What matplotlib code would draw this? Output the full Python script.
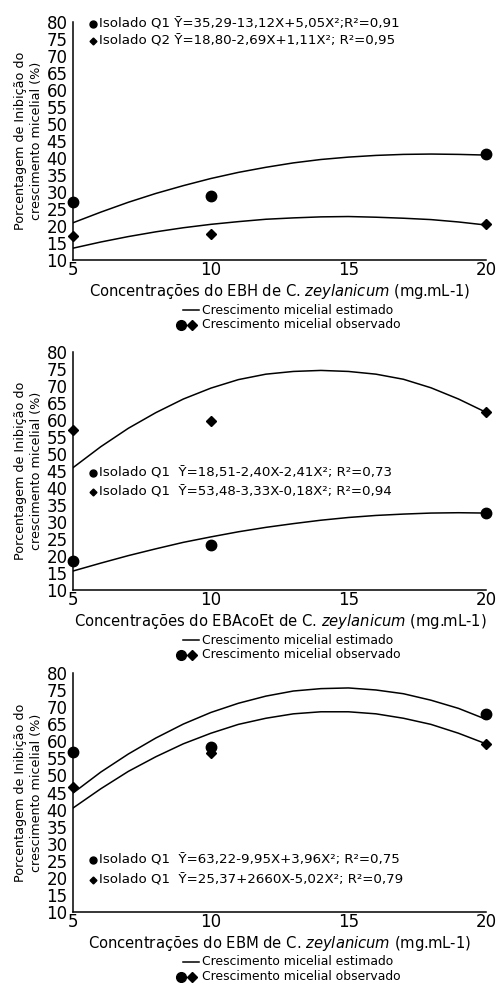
import matplotlib
matplotlib.use("Agg")
import matplotlib.pyplot as plt
from matplotlib.lines import Line2D

W, H = 500, 983  # figure size in pixels

# observed concentrations (mg/mL)
conc = [5, 10, 20]
# points along the fitted curves
curve_x = [5, 6, 7, 8, 9, 10, 11, 12, 13, 14, 15, 16, 17, 18, 19, 20]

# EBH
ebh_q1_obs = [27.0, 28.9, 41.1]
ebh_q2_obs = [17.0, 17.6, 20.5]
ebh_q1_est = [21.0, 24.1, 27.0, 29.6, 31.9, 34.0, 35.8, 37.3, 38.6, 39.6,
              40.3, 40.8, 41.1, 41.2, 41.1, 40.9]
ebh_q2_est = [13.5, 15.3, 16.9, 18.3, 19.5, 20.5, 21.3, 22.0, 22.4, 22.7,
              22.8, 22.6, 22.3, 21.9, 21.2, 20.3]

# EBAcoEt
ebaco_circ_obs = [18.4, 23.2, 32.6]
ebaco_diam_obs = [56.9, 59.7, 62.2]
ebaco_circ_est = [15.6, 17.9, 20.1, 22.1, 24.0, 25.6, 27.1, 28.4, 29.5, 30.5,
                  31.3, 31.9, 32.3, 32.6, 32.7, 32.6]
ebaco_diam_est = [46.0, 52.1, 57.5, 62.1, 66.1, 69.3, 71.8, 73.4, 74.2, 74.5,
                  74.2, 73.4, 71.9, 69.4, 66.1, 62.2]

# EBM
ebm_circ_obs = [56.8, 58.4, 68.1]
ebm_diam_obs = [46.5, 56.7, 59.1]
ebm_circ_est = [44.9, 51.0, 56.3, 61.0, 65.1, 68.5, 71.2, 73.3, 74.8, 75.5,
                75.7, 75.1, 74.0, 72.1, 69.7, 66.5]
ebm_diam_est = [40.5, 46.1, 51.2, 55.5, 59.3, 62.4, 65.0, 66.8, 68.1, 68.7,
                68.7, 68.1, 66.8, 65.0, 62.4, 59.3]

extracts = ["EBH", "EBAcoEt", "EBM"]
eq_circ = ["Isolado Q1 Ȳ=35,29-13,12X+5,05X²;R²=0,91",
           "Isolado Q1  Ȳ=18,51-2,40X-2,41X²; R²=0,73",
           "Isolado Q1  Ȳ=63,22-9,95X+3,96X²; R²=0,75"]
eq_diam = ["Isolado Q2 Ȳ=18,80-2,69X+1,11X²; R²=0,95",
           "Isolado Q1  Ȳ=53,48-3,33X-0,18X²; R²=0,94",
           "Isolado Q1  Ȳ=25,37+2660X-5,02X²; R²=0,79"]

yticks = [10, 15, 20, 25, 30, 35, 40, 45, 50, 55, 60, 65, 70, 75, 80]
xticks = [5, 10, 15, 20]

circ_obs = [ebh_q1_obs, ebaco_circ_obs, ebm_circ_obs]
diam_obs = [ebh_q2_obs, ebaco_diam_obs, ebm_diam_obs]
circ_est = [ebh_q1_est, ebaco_circ_est, ebm_circ_est]
diam_est = [ebh_q2_est, ebaco_diam_est, ebm_diam_est]

# layout (pixels)
tops = [22.3, 351.7, 673.3]
bottoms = [260, 590, 911.7]
eq_rows = [(24, 41), (473.3, 491.7), (860, 880)]
left_px, right_px = 73.3, 486


def fx(px):
    return px / W


def fy(py):
    return 1 - py / H


fig = plt.figure(figsize=(W / 100, H / 100), dpi=100)

for i in range(3):
    ax = fig.add_axes([fx(left_px), fy(bottoms[i]),
                       (right_px - left_px) / W, (bottoms[i] - tops[i]) / H])
    ax.plot(curve_x, circ_est[i], color="black", lw=1.1)
    ax.plot(curve_x, diam_est[i], color="black", lw=1.1)
    ax.plot(conc, circ_obs[i], "o", color="black", ms=7.5, clip_on=False)
    ax.plot(conc, diam_obs[i], "D", color="black", ms=5.5, clip_on=False)

    ax.set_xlim(5, 20)
    ax.set_ylim(10, 80)
    ax.set_xticks(xticks)
    ax.set_yticks(yticks)
    ax.tick_params(length=0, labelsize=12)
    ax.tick_params(axis="y", pad=4)
    ax.tick_params(axis="x", pad=1)
    ax.spines["top"].set_visible(False)
    ax.spines["right"].set_visible(False)
    for s in ["left", "bottom"]:
        ax.spines[s].set_linewidth(1.1)

    # y label
    ymid = (tops[i] + bottoms[i]) / 2
    fig.text(fx(28.5), fy(ymid), "Porcentagem de Inibição do\ncrescimento micelial (%)",
             rotation=90, ha="center", va="center", fontsize=9.2, linespacing=1.35)

    # x label
    fig.text(fx(280), fy(bottoms[i] + 31.7),
             "Concentrações do " + extracts[i] + r" de C. $\it{zeylanicum}$ (mg.mL-1)",
             ha="center", va="center", fontsize=10.6)

    # equations
    r1, r2 = eq_rows[i]
    fig.add_artist(Line2D([fx(93)], [fy(r1)], marker="o", color="black", ms=5))
    fig.add_artist(Line2D([fx(93)], [fy(r2)], marker="D", color="black", ms=3.5))
    fig.text(fx(99), fy(r1), eq_circ[i], ha="left", va="center", fontsize=9.6)
    fig.text(fx(99), fy(r2), eq_diam[i], ha="left", va="center", fontsize=9.6)

    # legend lines below the axis
    y_est = bottoms[i] + 50
    y_obs = bottoms[i] + 65
    fig.add_artist(Line2D([fx(183), fx(199)], [fy(y_est), fy(y_est)],
                          color="black", lw=1.1))
    fig.text(fx(202), fy(y_est), "Crescimento micelial estimado",
             ha="left", va="center", fontsize=8.9)
    fig.add_artist(Line2D([fx(181)], [fy(y_obs)], marker="o", color="black", ms=7))
    fig.add_artist(Line2D([fx(192)], [fy(y_obs)], marker="D", color="black", ms=5))
    fig.text(fx(202), fy(y_obs), "Crescimento micelial observado",
             ha="left", va="center", fontsize=8.9)

fig.savefig("out.png", dpi=100)
